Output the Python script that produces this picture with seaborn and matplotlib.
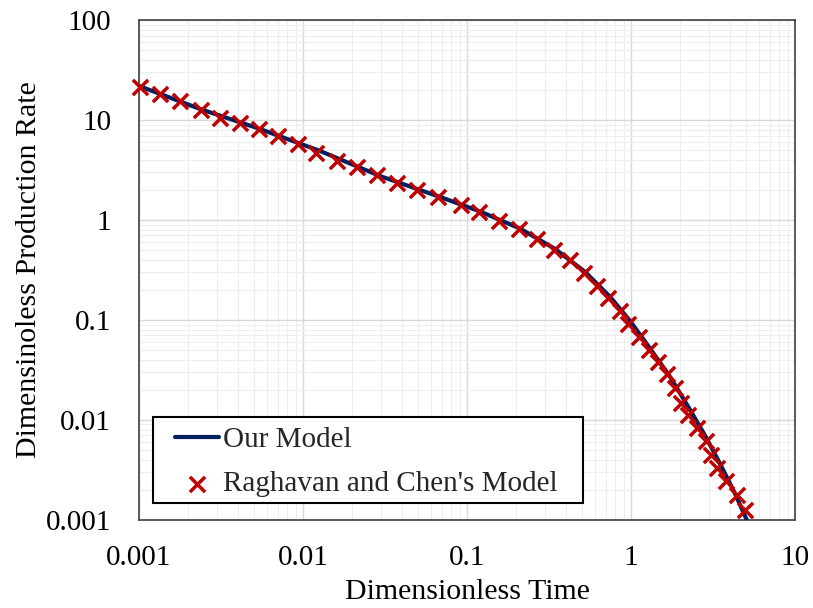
import matplotlib
matplotlib.use("Agg")
import matplotlib.pyplot as plt
import matplotlib.ticker as mticker
from matplotlib.patches import Rectangle
import seaborn as sns
import pandas as pd
import numpy as np

# Our Model (line)
model_t = [0.001, 0.002355, 0.00547, 0.0127, 0.0295, 0.0684, 0.120, 0.210, 0.344,
           0.525, 0.745, 0.986, 1.31, 1.73, 2.29, 2.83, 3.49, 4.31, 5.13]
model_q = [21.9, 12.9, 8.13, 4.90, 2.75, 1.70, 1.216, 0.822, 0.513,
           0.302, 0.170, 0.0977, 0.0513, 0.0269, 0.0126, 0.00692, 0.00363, 0.00182, 0.000955]

# Raghavan and Chen's Model (markers)
rc_t = [0.00101, 0.00134, 0.00179, 0.00238, 0.00312, 0.00413, 0.0054, 0.00706, 0.00929,
        0.0120, 0.0160, 0.0212, 0.0281, 0.0376, 0.0498, 0.0668, 0.0912, 0.118, 0.157,
        0.208, 0.268, 0.339, 0.422, 0.513, 0.617, 0.728, 0.857, 0.964, 1.11, 1.28,
        1.45, 1.65, 1.85, 2.01, 2.21, 2.52, 2.85, 3.05, 3.34, 3.79, 4.40, 4.95]
rc_q = [21.5, 18.1, 15.5, 12.6, 10.4, 9.27, 8.13, 6.92, 5.75,
        4.71, 3.92, 3.36, 2.82, 2.36, 2.0, 1.69, 1.40, 1.19, 0.977,
        0.804, 0.638, 0.501, 0.394, 0.292, 0.219, 0.166, 0.124, 0.0912, 0.0681, 0.0501,
        0.0383, 0.0285, 0.0209, 0.0149, 0.0112, 0.00826, 0.00617, 0.00447, 0.00331, 0.00245, 0.00178, 0.00126]

x_ticks = [0.001, 0.01, 0.1, 1, 10]
y_ticks = [0.001, 0.01, 0.1, 1, 10, 100]
x_label = "Dimensionless Time"
y_label = "Dimensinoless Production Rate"
line_label = "Our Model"
marker_label = "Raghavan and Chen's Model"

sns.set_theme(style="white")
plt.rcParams['font.family'] = ['Liberation Serif', 'DejaVu Serif']

fig = plt.figure(figsize=(8.13, 6.08), dpi=100)
ax = fig.add_axes([0.171, 0.145, 0.807, 0.822])

df_model = pd.DataFrame({"t": model_t, "q": model_q})
df_rc = pd.DataFrame({"t": rc_t, "q": rc_q})

ax.set_xscale("log")
ax.set_yscale("log")

sns.lineplot(data=df_model, x="t", y="q", ax=ax, color="#002060", linewidth=3,
             label=line_label, zorder=3, clip_on=True)
sns.scatterplot(data=df_rc, x="t", y="q", ax=ax, marker="x", color="#c00000",
                s=120, linewidth=2.5, label=marker_label, zorder=4, clip_on=False)

ax.set_xlim(0.001, 10)
ax.set_ylim(0.001, 100)

ax.xaxis.set_major_locator(mticker.FixedLocator(x_ticks))
ax.yaxis.set_major_locator(mticker.FixedLocator(y_ticks))
ax.xaxis.set_major_formatter(mticker.FuncFormatter(lambda v, p: f"{v:g}"))
ax.yaxis.set_major_formatter(mticker.FuncFormatter(lambda v, p: f"{v:g}"))
ax.xaxis.set_minor_locator(mticker.LogLocator(base=10, subs=np.arange(2, 10), numticks=20))
ax.yaxis.set_minor_locator(mticker.LogLocator(base=10, subs=np.arange(2, 10), numticks=20))
ax.xaxis.set_minor_formatter(mticker.NullFormatter())
ax.yaxis.set_minor_formatter(mticker.NullFormatter())

ax.grid(True, which="major", color="#d9d9d9", linewidth=1.0, zorder=0)
ax.grid(True, which="minor", color="#eeeeee", linewidth=0.8, zorder=0)
ax.set_axisbelow(True)

ax.tick_params(axis="both", which="both", length=0, labelsize=21, colors="black")
ax.tick_params(axis="y", pad=20)
ax.tick_params(axis="x", pad=18)

for s in ax.spines.values():
    s.set_color("#404040")
    s.set_linewidth(1.2)

ax.set_xlabel(x_label, fontsize=21.5, color="black", labelpad=6)
ax.set_ylabel(y_label, fontsize=21.5, color="black", labelpad=2.5)

# legend frame
frame = Rectangle((0.0213, 0.034), 0.6555, 0.172, transform=ax.transAxes,
                  facecolor="white", edgecolor="black", linewidth=1.5, zorder=5)
ax.add_patch(frame)

leg = ax.legend(loc="center left", bbox_to_anchor=(0.0549, 0.116), fontsize=21,
                frameon=False, borderpad=0, handlelength=1.5, handletextpad=0.15,
                labelspacing=0.62, borderaxespad=0)
leg.set_zorder(6)

fig.savefig("out.png", dpi=100)
